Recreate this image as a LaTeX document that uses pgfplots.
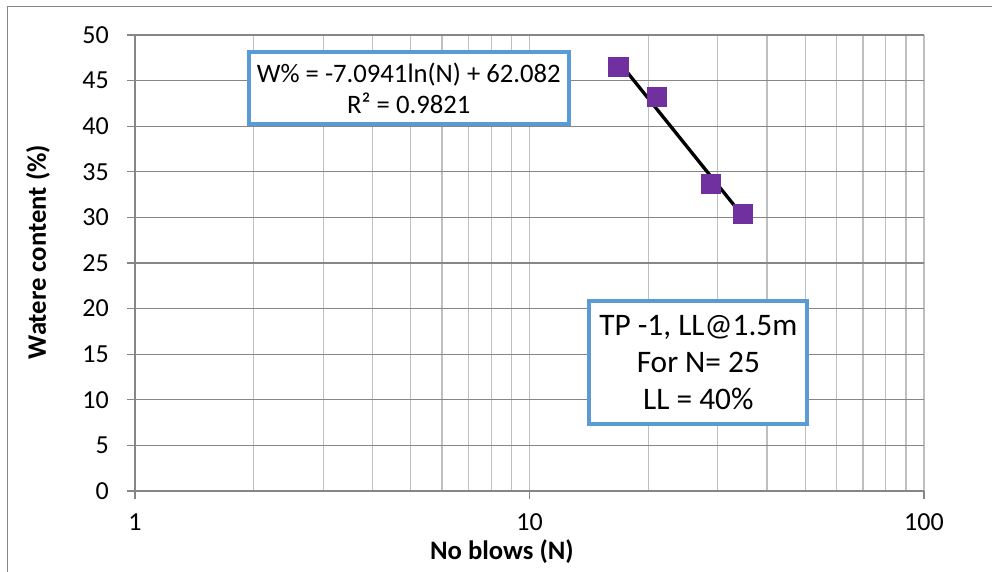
\documentclass[border=0pt]{standalone}
\usepackage{fontspec}
\setmainfont{Carlito}
\usepackage{pgfplots}
\pgfplotsset{compat=1.18}
\definecolor{axgray}{RGB}{134,134,134}
\definecolor{gridx}{RGB}{191,191,191}
\definecolor{mkpurple}{RGB}{112,48,160}
\definecolor{boxblue}{RGB}{91,155,213}
\begin{document}
\begin{tikzpicture}
\useasboundingbox (0,0) rectangle (744pt,428.25pt);
\draw[axgray, line width=1.2pt] (5.6pt,423.4pt) rectangle (800pt,-50pt);
\begin{axis}[
  scale only axis, width=591.75pt, height=342pt,
  at={(101.25pt,60pt)}, anchor=south west,
  xmode=log, xmin=1, xmax=100, ymin=0, ymax=50,
  xtick={1,10,100}, xticklabels={1,10,100},
  minor xtick={2,3,4,5,6,7,8,9,20,30,40,50,60,70,80,90},
  ytick={0,5,10,15,20,25,30,35,40,45,50},
  axis lines*=left, axis line style={axgray, line width=1pt, -},
  tick align=outside, major tick length=6pt, minor tick length=0pt,
  tick style={axgray, line width=1pt},
  xmajorgrids, xminorgrids,
  grid style={gridx, line width=1pt},
  extra y ticks={5,10,15,20,25,30,35,40,45,50}, extra y tick labels={},
  extra y tick style={grid=major, major grid style={axgray, line width=1pt}},
  /pgf/number format/assume math mode=true,
  tick label style={font=\fontsize{19.5}{23}\selectfont},
  yticklabel style={anchor=east, inner sep=0pt, xshift=-13.5pt},
  xticklabel style={anchor=center, inner sep=0pt, yshift=-17pt},
  xlabel={No blows (N)},
  ylabel={Watere content (\%)},
  xlabel style={at={(axis description cs:0.465,-0.134)}, anchor=center, font=\bfseries\fontsize{20}{24}\selectfont},
  ylabel style={at={(axis description cs:-0.123,0.524)}, anchor=center, font=\bfseries\fontsize{20}{24}\selectfont},
  clip=false,
]
\addplot[only marks, mark=square*, mark size=7.3pt, mark options={draw=mkpurple, fill=mkpurple}]
  coordinates {(16.8,46.5) (21.0,43.2) (28.8,33.7) (34.7,30.4)};
\addplot[black, line width=2.5pt] coordinates {(16.96,46.9) (34.8,30.1)};
\node[draw=boxblue, line width=3pt, fill=white, minimum width=240pt, minimum height=54pt,
  align=center, inner sep=0pt, font=\fontsize{20}{23.25}\selectfont]
  at (axis description cs:0.347,0.884) {W\% = -7.0941ln(N) + 62.082\\R² = 0.9821};
\node[draw=boxblue, line width=3pt, fill=white, minimum width=163.5pt, minimum height=92.25pt,
  align=center, inner sep=0pt, font=\fontsize{23.5}{27.75}\selectfont]
  at (axis description cs:0.714,0.281) {TP -1, LL@1.5m\\For N= 25\\LL = 40\%};
\end{axis}
\end{tikzpicture}
\end{document}
